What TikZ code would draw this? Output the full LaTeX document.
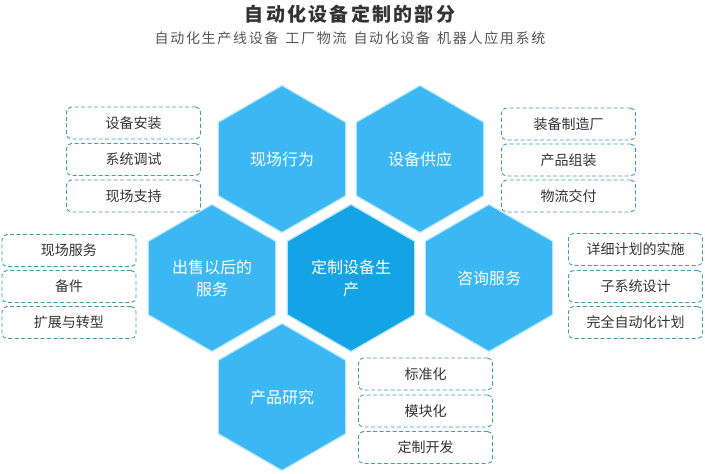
\documentclass[tikz,border=0pt]{standalone}
\usepackage{fontspec}
\setmainfont{Noto Sans CJK SC}
\newfontfamily\titlefont[LetterSpace=12]{Noto Sans CJK SC}
\newfontfamily\subfont[LetterSpace=12]{Noto Sans CJK SC}
\usetikzlibrary{shapes.geometric}
\definecolor{hexlight}{HTML}{3BB8F3}
\definecolor{hexdark}{HTML}{14A3E5}
\definecolor{dashc}{HTML}{3D9BB8}
\definecolor{txtc}{HTML}{333333}
\definecolor{subc}{HTML}{555555}
\tikzset{
  hexa/.style={regular polygon, regular polygon sides=6, shape border rotate=30,
    minimum size=147pt, inner sep=0pt, fill=hexlight, draw=hexlight!35, line width=1.2pt,
    text=white, align=center, font=\fontsize{16}{22}\selectfont},
  hexc/.style={hexa, fill=hexdark},
  itembox/.style={draw=dashc, dash pattern=on 4pt off 2.5pt, line width=0.9pt,
    rounded corners=5pt, minimum width=134pt, minimum height=32pt, inner sep=0pt,
    text=txtc, font=\fontsize{14}{16}\selectfont},
}
\begin{document}
\begin{tikzpicture}[x=1pt,y=-1pt]
\useasboundingbox (0,0) rectangle (705,474);
\node[text=txtc, font=\titlefont\bfseries\fontsize{19}{22}\selectfont] (title) at (350,14) {自动化设备定制的部分};
\node[text=subc, font=\subfont\fontsize{14}{16}\selectfont] (sub) at (350,38.5) {自动化生产线设备\hspace{7pt}工厂物流\hspace{7pt}自动化设备\hspace{7pt}机器人应用系统};

\node[hexa] (tl) at (282,159) {现场行为};
\node[hexa] (tr) at (420,159) {设备供应};
\node[hexa] (ml) at (212,278) {出售以后的\\服务};
\node[hexc] (mc) at (351,278) {定制设备生\\产};
\node[hexa] (mr) at (489,278) {咨询服务};
\node[hexa] (bm) at (282,397) {产品研究};

\node[itembox] (a1) at (133.5,123) {设备安装};
\node[itembox] (a2) at (133.5,159.5) {系统调试};
\node[itembox] (a3) at (133.5,196) {现场支持};

\node[itembox] (b1) at (69,250.5) {现场服务};
\node[itembox] (b2) at (69,286.5) {备件};
\node[itembox] (b3) at (69,322.5) {扩展与转型};

\node[itembox] (c1) at (568.5,124) {装备制造厂};
\node[itembox] (c2) at (568.5,160) {产品组装};
\node[itembox] (c3) at (568.5,196) {物流交付};

\node[itembox] (d1) at (635.5,249.5) {详细计划的实施};
\node[itembox] (d2) at (635.5,286.5) {子系统设计};
\node[itembox] (d3) at (635.5,322.5) {完全自动化计划};

\node[itembox] (e1) at (425.5,374) {标准化};
\node[itembox] (e2) at (425.5,411) {模块化};
\node[itembox] (e3) at (425.5,447.5) {定制开发};
\end{tikzpicture}
\end{document}
